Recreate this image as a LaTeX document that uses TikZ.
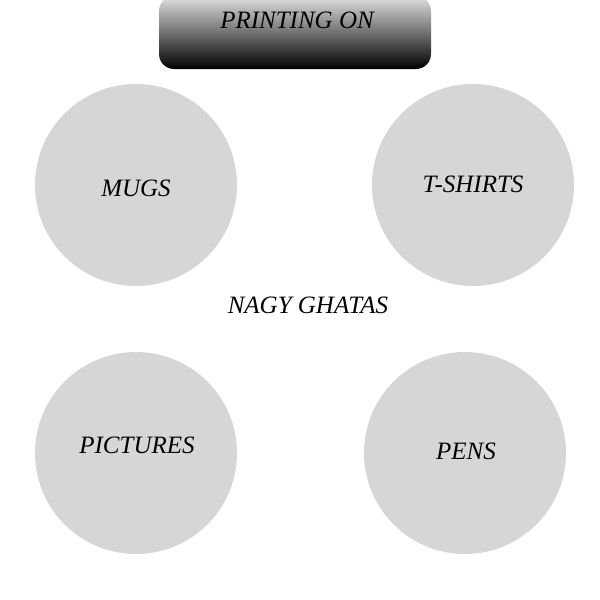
\documentclass[tikz,border=0pt]{standalone}
\usepackage{fontspec}
\setmainfont{Liberation Serif}
\begin{document}
\begin{tikzpicture}[x=1pt, y=-1pt,
  disc/.style={shape=circle, fill=black!16, minimum size=202pt, inner sep=0pt, node contents=},
  lbl/.style={font=\fontsize{25}{29}\selectfont\itshape, inner sep=0pt},
  bar/.style={shape=rectangle, rounded corners=15pt, minimum width=272pt, minimum height=73pt,
    top color=black!12, middle color=black!65, bottom color=black, inner sep=0pt, node contents=}]
    \useasboundingbox (0,0) rectangle (600,600);
    % title bar, top corners pushed above the page
    \node (bar) at (295,32.5) [bar];
    \node[lbl] (title) at (297,20) {PRINTING ON};
    \node (c1) at (136,185) [disc];
    \node (c2) at (473,185) [disc];
    \node (c3) at (136,453) [disc];
    \node (c4) at (465,453) [disc];
    \node[lbl] (mugs) at (136,188) {MUGS};
    \node[lbl] (shirts) at (473,184) {T-SHIRTS};
    \node[lbl] (pics) at (137,445) {PICTURES};
    \node[lbl] (pens) at (466,451) {PENS};
    \node[lbl] (name) at (308,305) {NAGY GHATAS};
  \end{tikzpicture}
\end{document}
